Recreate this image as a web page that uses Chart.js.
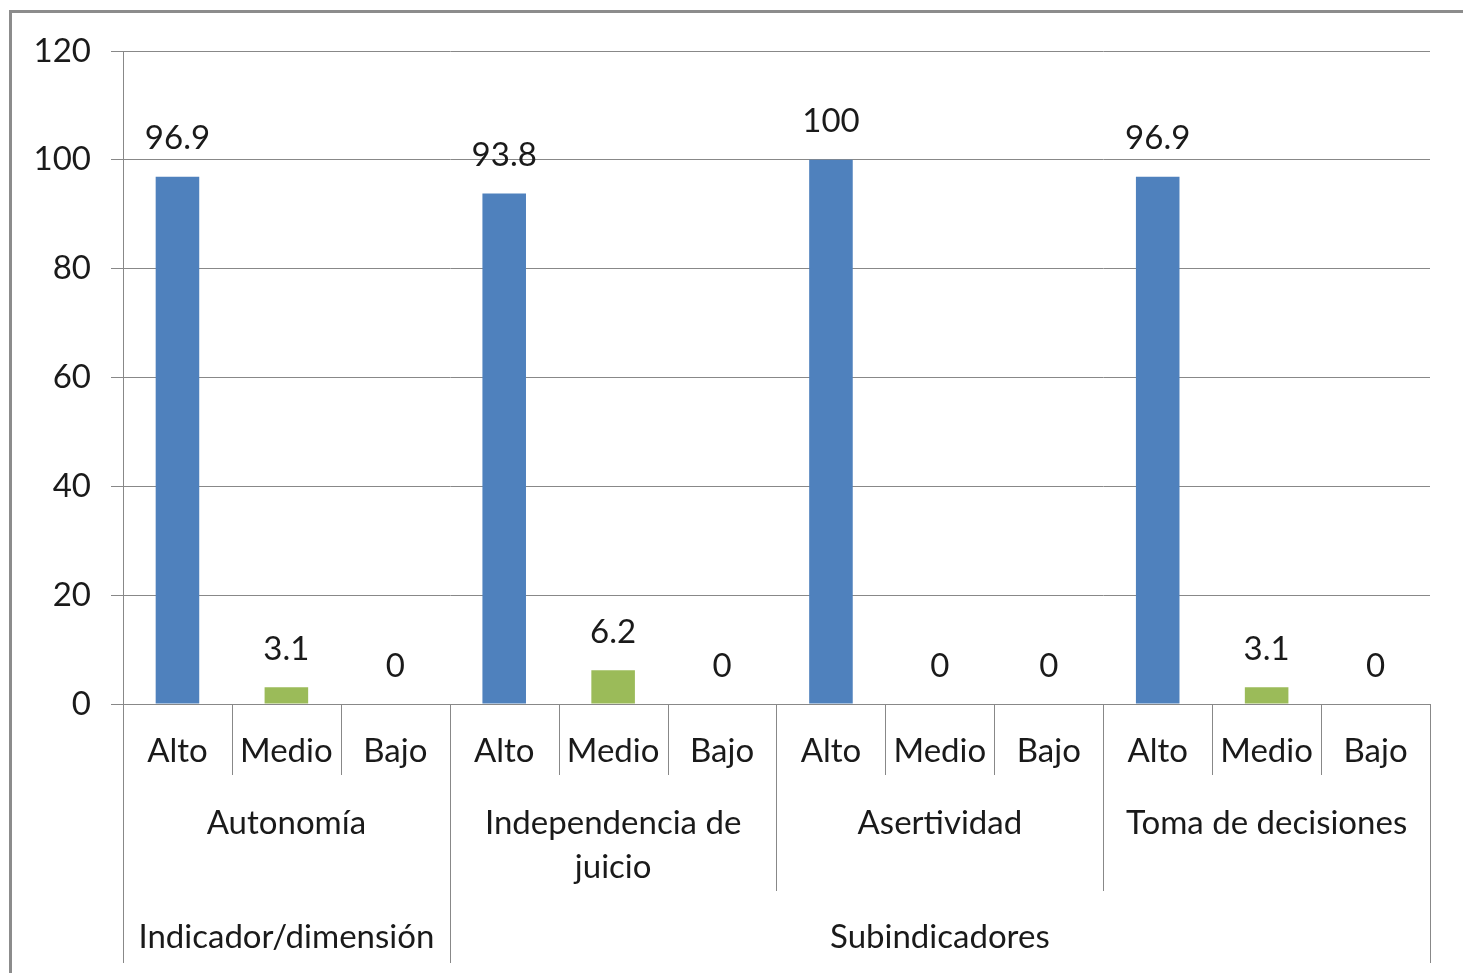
<!DOCTYPE html>
<html>
<head>
<meta charset="utf-8">
<title>Autonomía - niveles</title>
<script src="https://cdn.jsdelivr.net/npm/chart.js@4.4.0/dist/chart.umd.min.js"></script>
<style>
    html, body { margin: 0; padding: 0; background: #fff; }
    #wrap { width: 1463px; height: 973px; }
</style>
</head>
<body>
<div id="wrap"><canvas id="chart" width="1463" height="973"></canvas></div>
<script>
// Data
const levels = ['Alto', 'Medio', 'Bajo', 'Alto', 'Medio', 'Bajo', 'Alto', 'Medio', 'Bajo', 'Alto', 'Medio', 'Bajo'];
const values = [96.9, 3.1, 0, 93.8, 6.2, 0, 100, 0, 0, 96.9, 3.1, 0];
const subgroups = ['Autonomía', 'Independencia de juicio', 'Asertividad', 'Toma de decisiones'];
const groups = ['Indicador/dimensión', 'Subindicadores'];
const groupSpans = [1, 3]; // subgroups under each group
const yMin = 0, yMax = 120, yStep = 20;

const levelColors = { Alto: '#4F81BD', Medio: '#9BBB59', Bajo: '#C0504D' };
const FONT = 'Lato';
const FONT_SIZE = 33;
const TEXT = '#1a1a1a';
const LINE = '#888888';

const perGroup = levels.length / subgroups.length;

// Value labels above each bar
const valueLabels = {
    id: 'valueLabels',
    afterDatasetsDraw(chart) {
        const ctx = chart.ctx;
        const meta = chart.getDatasetMeta(0);
        ctx.save();
        ctx.font = FONT_SIZE + 'px ' + FONT;
        ctx.fillStyle = TEXT;
        ctx.textAlign = 'center';
        ctx.textBaseline = 'middle';
        meta.data.forEach(function (bar, i) {
            ctx.fillText(String(values[i]), bar.x, bar.y - 38);
        });
        ctx.restore();
    }
};

// Multi-level category axis: separators, sub-indicator and group labels, frame
const multiLevelAxis = {
    id: 'multiLevelAxis',
    afterDraw(chart) {
        const ctx = chart.ctx;
        const x = chart.scales.x;
        const y = chart.scales.y;
        const base = y.getPixelForValue(yMin);
        const step = x.getPixelForValue(1) - x.getPixelForValue(0);
        const edge = function (i) { return x.getPixelForValue(i) - step / 2; };

        // group boundaries (in category index)
        const groupEdges = [0];
        groupSpans.forEach(function (n) { groupEdges.push(groupEdges[groupEdges.length - 1] + n * perGroup); });

        ctx.save();
        ctx.strokeStyle = LINE;
        ctx.lineWidth = 1;
        for (let i = 0; i <= levels.length; i++) {
            let len = 71;
            if (groupEdges.indexOf(i) >= 0) len = 259;
            else if (i % perGroup === 0) len = 187;
            const px = Math.round(edge(i)) + 0.5;
            ctx.beginPath();
            ctx.moveTo(px, base);
            ctx.lineTo(px, base + len);
            ctx.stroke();
        }

        ctx.font = FONT_SIZE + 'px ' + FONT;
        ctx.fillStyle = TEXT;
        ctx.textAlign = 'center';
        ctx.textBaseline = 'middle';

        // sub-indicator labels, wrapped to the group width
        subgroups.forEach(function (name, k) {
            const l = edge(k * perGroup), r = edge((k + 1) * perGroup);
            const maxW = r - l - 8;
            const words = name.split(' ');
            const lines = [];
            let cur = '';
            words.forEach(function (w) {
                const test = cur ? cur + ' ' + w : w;
                if (ctx.measureText(test).width > maxW && cur) { lines.push(cur); cur = w; }
                else cur = test;
            });
            lines.push(cur);
            lines.forEach(function (ln, j) {
                ctx.fillText(ln, (l + r) / 2, base + 119 + j * 44);
            });
        });

        // top level labels
        groups.forEach(function (name, g) {
            const l = edge(groupEdges[g]), r = edge(groupEdges[g + 1]);
            ctx.fillText(name, (l + r) / 2, base + 233);
        });

        // outer frame (top and left edges are visible)
        ctx.strokeStyle = '#8c8c8c';
        ctx.lineWidth = 3;
        ctx.beginPath();
        ctx.moveTo(10.5, chart.height);
        ctx.lineTo(10.5, 11.5);
        ctx.lineTo(chart.width, 11.5);
        ctx.stroke();
        ctx.restore();
    }
};

const ctx = document.getElementById('chart').getContext('2d');
const chart = new Chart(ctx, {
    type: 'bar',
    data: {
        labels: levels,
        datasets: [{
            label: 'Porcentaje',
            data: values,
            backgroundColor: levels.map(function (l) { return levelColors[l]; }),
            borderWidth: 0,
            barPercentage: 0.4,
            categoryPercentage: 1
        }]
    },
    options: {
        responsive: false,
        animation: false,
        devicePixelRatio: 1,
        layout: { padding: { top: 51, right: 33, left: 0, bottom: 0 } },
        plugins: {
            legend: { display: false },
            tooltip: { enabled: false }
        },
        scales: {
            x: {
                grid: { display: false },
                border: { display: false },
                ticks: {
                    color: TEXT,
                    font: { family: FONT, size: FONT_SIZE },
                    padding: 20,
                    autoSkip: false,
                    maxRotation: 0
                },
                afterFit: function (scale) { scale.height = 269; }
            },
            y: {
                min: yMin,
                max: yMax,
                ticks: {
                    stepSize: yStep,
                    color: TEXT,
                    font: { family: FONT, size: FONT_SIZE },
                    padding: 20
                },
                grid: { color: LINE, lineWidth: 1, tickLength: 12 },
                border: { color: LINE, width: 1 },
                afterFit: function (scale) { scale.width = 123; }
            }
        }
    },
    plugins: [valueLabels, multiLevelAxis]
});
</script>
</body>
</html>
